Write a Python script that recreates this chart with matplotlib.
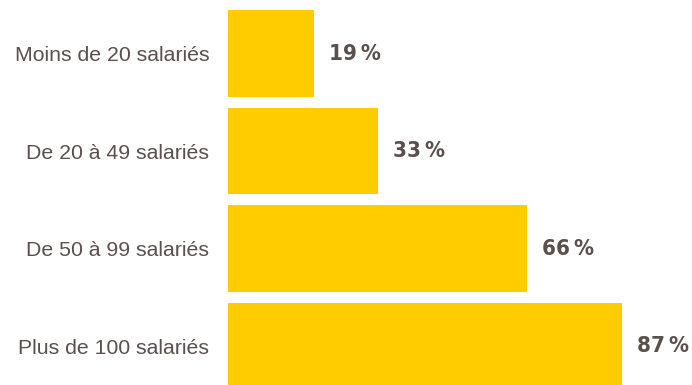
import matplotlib
matplotlib.use("Agg")
import matplotlib.pyplot as plt

# share of companies by size
categories = ["Moins de 20 salariés", "De 20 à 49 salariés",
              "De 50 à 99 salariés", "Plus de 100 salariés"]
values = [19, 33, 66, 87]
value_labels = ["19\u2009%", "33\u2009%", "66\u2009%", "87\u2009%"]

bar_color = "#FFCC00"
text_color = "#5a504e"

fig = plt.figure(figsize=(6.92, 3.85), dpi=100)
ax = fig.add_axes([228 / 692, 0, 464 / 692, 1])

pos = list(range(len(categories)))
ax.barh(pos, values, height=0.892, color=bar_color, edgecolor="none")

ax.set_xlim(0, 102.4)
ax.set_ylim(3.40, -0.549)

ax.set_yticks(pos)
ax.set_yticklabels(categories, fontsize=15.3, color=text_color,
                   family=["Liberation Sans", "DejaVu Sans"])
ax.tick_params(axis="y", length=0, pad=13.5)
ax.set_xticks([])
for s in ax.spines.values():
    s.set_visible(False)

# narrow bold figures for the percentages
for p, v, lab in zip(pos, values, value_labels):
    ax.annotate(lab, (v, p), xytext=(11, 0), textcoords="offset points",
                ha="left", va="center", fontsize=16, fontweight="bold",
                fontstretch="extra-condensed", color=text_color,
                family=["DejaVu Sans"],
                annotation_clip=False)

fig.savefig("out.png", dpi=100)
